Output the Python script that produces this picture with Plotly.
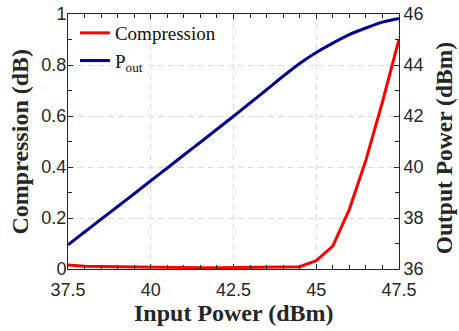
import plotly.graph_objects as go

# Data
input_power = [37.5, 38, 38.5, 39, 39.5, 40, 40.5, 41, 41.5, 42, 42.5,
               43, 43.5, 44, 44.5, 45, 45.5, 46, 46.5, 47, 47.5]
compression = [0.016, 0.011, 0.010, 0.009, 0.007, 0.006, 0.005, 0.005, 0.005, 0.005, 0.006,
               0.006, 0.007, 0.008, 0.009, 0.033, 0.090, 0.234, 0.427, 0.655, 0.900]
output_power = [36.95, 37.45, 37.95, 38.45, 38.95, 39.46, 39.96, 40.47, 40.97, 41.48, 41.99,
                42.51, 43.03, 43.56, 44.06, 44.49, 44.86, 45.19, 45.45, 45.68, 45.82]

x_ticks = [37.5, 40, 42.5, 45, 47.5]
x_ticktext = ["37.5", "40", "42.5", "45", "47.5"]
y_left_ticks = [0, 0.2, 0.4, 0.6, 0.8, 1]
y_right_ticks = [36, 38, 40, 42, 44, 46]

series_names = ["Compression", "P<sub>out</sub>"]
x_title = "Input Power (dBm)"
y_left_title = "Compression (dB)"
y_right_title = "Output Power (dBm)"

RED = "#ff0000"
BLUE = "#00008f"
AXC = "#262626"
GRID = "#dcdcdc"
TICKFONT = dict(family="Liberation Sans", size=18, color=AXC)
TITLEFONT = dict(family="Liberation Serif", size=24, color=AXC)

fig = go.Figure()
fig.add_trace(go.Scatter(x=input_power, y=compression, mode="lines", name=series_names[0],
                         line=dict(color=RED, width=3), yaxis="y"))
fig.add_trace(go.Scatter(x=input_power, y=output_power, mode="lines", name=series_names[1],
                         line=dict(color=BLUE, width=3, shape="spline", smoothing=0.6), yaxis="y2"))

fig.update_layout(
    width=459, height=331,
    margin=dict(l=68, r=60, t=14, b=62, autoexpand=False),
    paper_bgcolor="white", plot_bgcolor="white",
    showlegend=True,
    legend=dict(x=0.021, y=1.0, xanchor="left", yanchor="top",
                bgcolor="rgba(0,0,0,0)", borderwidth=0,
                font=dict(family="Liberation Serif", size=19, color="#111111"),
                tracegroupgap=0),
    xaxis=dict(range=[37.5, 47.5], tickvals=x_ticks, ticktext=x_ticktext, automargin=False,
               showgrid=True, gridcolor=GRID, griddash="6px,4px", gridwidth=1,
               ticks="inside", ticklen=5, tickcolor=AXC, ticklabelstandoff=4,
               minor=dict(dtick=0.5, tick0=37.5, ticks="inside", ticklen=4, tickcolor=AXC, showgrid=False),
               showline=True, linecolor=AXC, linewidth=1, mirror="ticks",
               zeroline=False, tickfont=TICKFONT),
    yaxis=dict(range=[0, 1], tickvals=y_left_ticks, automargin=False,
               showgrid=True, gridcolor=GRID, griddash="6px,4px", gridwidth=1,
               ticks="inside", ticklen=5, tickcolor=AXC, ticklabelstandoff=-3,
               minor=dict(dtick=0.1, tick0=0, ticks="inside", ticklen=4, tickcolor=AXC, showgrid=False),
               showline=True, linecolor=AXC, linewidth=1,
               zeroline=False, tickfont=TICKFONT),
    yaxis2=dict(range=[36, 46], tickvals=y_right_ticks, overlaying="y", side="right", automargin=False,
                showgrid=False, ticks="inside", ticklen=5, tickcolor=AXC,
                minor=dict(dtick=1, tick0=36, ticks="inside", ticklen=4, tickcolor=AXC, showgrid=False),
                showline=True, linecolor=AXC, linewidth=1,
                zeroline=False, tickfont=TICKFONT),
    annotations=[
        dict(text="<b>" + x_title + "</b>", xref="paper", yref="paper", x=0.5, y=-0.172,
             xanchor="center", yanchor="middle", showarrow=False, font=TITLEFONT),
        dict(text="<b>" + y_left_title + "</b>", xref="paper", yref="paper", x=-0.148, y=0.5,
             xanchor="center", yanchor="middle", showarrow=False, textangle=-90, font=TITLEFONT),
        dict(text="<b>" + y_right_title + "</b>", xref="paper", yref="paper", x=1.135, y=0.472,
             xanchor="center", yanchor="middle", showarrow=False, textangle=-90,
             font=dict(family="Liberation Serif", size=23.5, color=AXC)),
    ],
)

fig.write_html("out.html")
